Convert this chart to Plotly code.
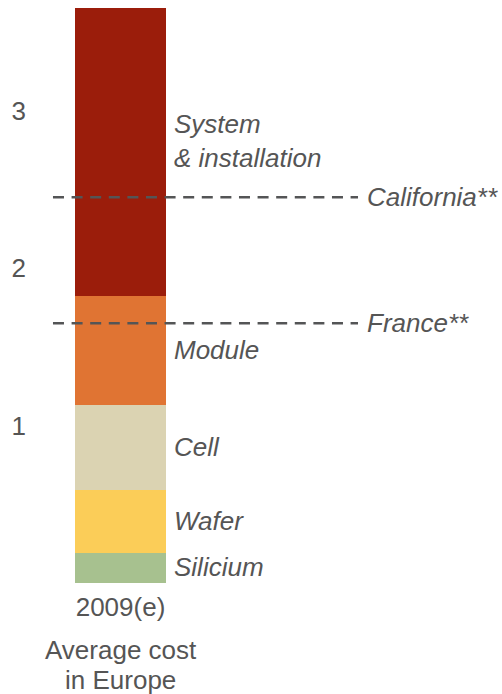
import plotly.graph_objects as go

# Cost breakdown of a PV system, average cost in Europe (stacked from the bottom)
category = ["2009(e)"]
components = ["Silicium", "Wafer", "Cell", "Module", "System<br>& installation"]
component_values = [0.19, 0.40, 0.54, 0.69, 1.83]
component_colors = ["#A7C18F", "#FBCD58", "#DBD3B2", "#E07433", "#9B1D0B"]

# Reference price levels drawn as dashed lines
reference_names = ["California**", "France**"]
reference_values = [2.45, 1.65]

y_ticks = [1, 2, 3]
x_title_lines = ["Average cost", "in Europe"]

TEXT = "#555555"
FONT = "Liberation Sans, Arial, sans-serif"
FS = 26

fig = go.Figure()
for name, val, col in zip(components, component_values, component_colors):
    fig.add_trace(go.Bar(
        x=category, y=[val], name=name, width=1,
        marker=dict(color=col, line=dict(width=0)),
        showlegend=False, hoverinfo="skip",
    ))

# Segment labels, centred on each segment
base = 0.0
for name, val in zip(components, component_values):
    mid = base + val / 2
    base += val
    fig.add_annotation(
        x=0.5, y=mid, xref="x", yref="y", text=f"<i>{name}</i>",
        showarrow=False, xanchor="left", yanchor="middle", xshift=6,
        yshift=11 if "<br>" in name else 1,
        align="left", font=dict(family=FONT, size=FS, color=TEXT),
    )

# Dashed reference lines with their labels
line_x0, line_x1 = -0.742, 2.61
for name, val in zip(reference_names, reference_values):
    fig.add_shape(
        type="line", xref="x", yref="y", x0=line_x0, x1=line_x1, y0=val, y1=val,
        line=dict(color="#545556", width=2.5, dash="11px,7.6px"), layer="above",
    )
    fig.add_annotation(
        x=line_x1, y=val, xref="x", yref="y", text=f"<i>{name}</i>",
        showarrow=False, xanchor="left", yanchor="middle", xshift=7,
        font=dict(family=FONT, size=FS, color=TEXT),
    )

# Axis caption under the category label, two tightly spaced lines
for line, ypos in zip(x_title_lines, [-0.0863, -0.1365]):
    fig.add_annotation(
        x=0, y=ypos, xref="x", yref="paper", text=line, showarrow=False,
        xanchor="center", yanchor="top", align="center",
        font=dict(family=FONT, size=FS, color=TEXT),
    )

fig.update_layout(
    width=502, height=694, barmode="stack",
    margin=dict(l=30, r=0, t=0, b=111),
    paper_bgcolor="white", plot_bgcolor="white",
    font=dict(family=FONT, size=FS, color=TEXT),
    hovermode=False,
    xaxis=dict(
        type="category", range=[-0.9945, 4.1923], showgrid=False, zeroline=False,
        showline=False, ticks="", tickfont=dict(size=FS, color=TEXT),
        ticklabelstandoff=6,
    ),
    yaxis=dict(
        range=[0, 583 / 157.5], tickvals=y_ticks, showgrid=False, zeroline=False,
        showline=False, ticks="", tickfont=dict(size=FS, color=TEXT),
        ticklabelstandoff=3,
    ),
)

fig.write_html("out.html")
